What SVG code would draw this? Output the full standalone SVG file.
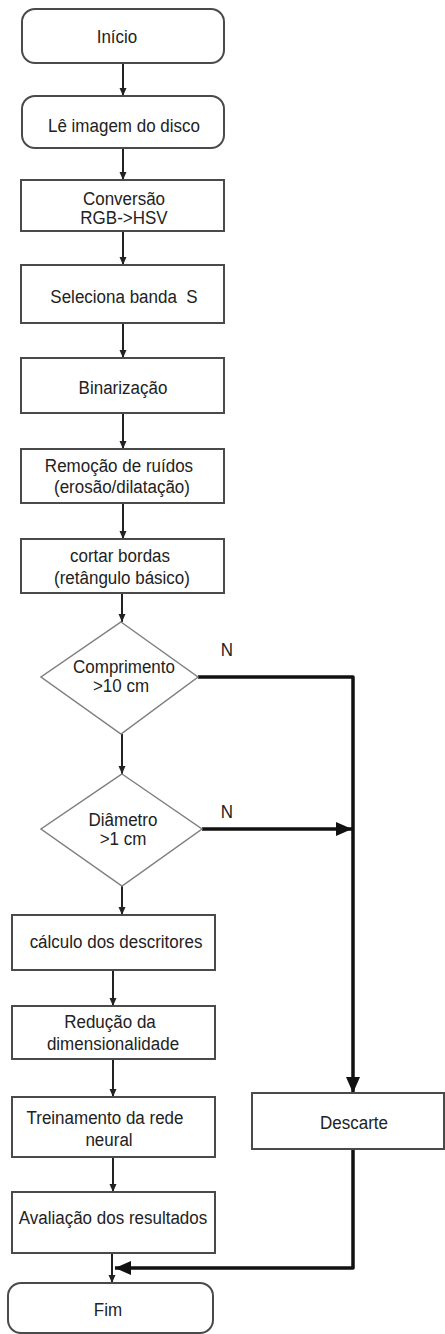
<svg xmlns="http://www.w3.org/2000/svg" width="445" height="1334" viewBox="0 0 445 1334">
  <style>
    .box { fill: #ffffff; stroke: #4a4a4a; stroke-width: 2; }
    .dec { fill: #ffffff; stroke: #808080; stroke-width: 1.5; }
    .lbl { font-family: "Liberation Sans", Arial, sans-serif; font-size: 17px; fill: #222; text-anchor: middle;
           transform-box: fill-box; transform-origin: center; transform: scaleY(1.12); }
    .flow { fill: none; stroke: #222; stroke-width: 2; }
    .no { fill: none; stroke: #111; stroke-width: 3.5; stroke-linejoin: round; }
  </style>
  <defs>
    <marker id="arr" markerWidth="8" markerHeight="8" refX="8" refY="4" orient="auto" markerUnits="userSpaceOnUse">
      <path d="M0,0.5 L8,4 L0,7.5 Z" fill="#222"/>
    </marker>
    <marker id="arrBig" markerWidth="16" markerHeight="14" refX="16" refY="7" orient="auto" markerUnits="userSpaceOnUse">
      <path d="M0,0 L16,7 L0,14 Z" fill="#111"/>
    </marker>
  </defs>
  <rect width="445" height="1334" fill="#ffffff"/>

  <!-- connectors -->
  <g id="connectors">
    <line class="flow" x1="123" y1="63" x2="123" y2="96" marker-end="url(#arr)"/>
    <line class="flow" x1="123" y1="148" x2="123" y2="180" marker-end="url(#arr)"/>
    <line class="flow" x1="123" y1="231" x2="123" y2="265" marker-end="url(#arr)"/>
    <line class="flow" x1="123" y1="323" x2="123" y2="358" marker-end="url(#arr)"/>
    <line class="flow" x1="123" y1="413" x2="123" y2="449" marker-end="url(#arr)"/>
    <line class="flow" x1="123" y1="503" x2="123" y2="539" marker-end="url(#arr)"/>
    <line class="flow" x1="122" y1="593" x2="122" y2="622" marker-end="url(#arr)"/>
    <line class="flow" x1="122" y1="734" x2="122" y2="774" marker-end="url(#arr)"/>
    <line class="flow" x1="122" y1="886" x2="122" y2="915" marker-end="url(#arr)"/>
    <line class="flow" x1="113" y1="970" x2="113" y2="1006" marker-end="url(#arr)"/>
    <line class="flow" x1="113" y1="1059" x2="113" y2="1097" marker-end="url(#arr)"/>
    <line class="flow" x1="113" y1="1157" x2="113" y2="1192" marker-end="url(#arr)"/>
    <line class="flow" x1="112" y1="1253" x2="112" y2="1283" marker-end="url(#arr)"/>
    <!-- "N" branches towards the discard box -->
    <path class="no" d="M198,677 H353 V1093" marker-end="url(#arrBig)"/>
    <line class="no" x1="202" y1="829" x2="352" y2="829" marker-end="url(#arrBig)"/>
    <path class="no" d="M353,1149 V1268 H115" marker-end="url(#arrBig)"/>
  </g>

  <g id="inicio">
    <rect class="box" x="22" y="9" width="202" height="54" rx="13"/>
    <text class="lbl" x="117" y="42">Início</text>
  </g>
  <g id="le-imagem">
    <rect class="box" x="22" y="96" width="202" height="52" rx="13"/>
    <text class="lbl" x="124" y="131">Lê imagem do disco</text>
  </g>
  <g id="conversao">
    <rect class="box" x="21" y="180" width="203" height="51"/>
    <text class="lbl" x="124" y="204">Conversão</text>
    <text class="lbl" x="124" y="223">RGB-&gt;HSV</text>
  </g>
  <g id="seleciona">
    <rect class="box" x="21" y="265" width="203" height="58"/>
    <text class="lbl" x="124" y="302" xml:space="preserve">Seleciona banda  S</text>
  </g>
  <g id="binarizacao">
    <rect class="box" x="21" y="358" width="203" height="55"/>
    <text class="lbl" x="123" y="393">Binarização</text>
  </g>
  <g id="remocao">
    <rect class="box" x="21" y="449" width="203" height="54"/>
    <text class="lbl" x="119" y="471">Remoção de ruídos</text>
    <text class="lbl" x="122" y="492">(erosão/dilatação)</text>
  </g>
  <g id="cortar">
    <rect class="box" x="21" y="539" width="203" height="54"/>
    <text class="lbl" x="120" y="561">cortar bordas</text>
    <text class="lbl" x="122" y="583">(retângulo básico)</text>
  </g>
  <g id="comprimento">
    <polygon class="dec" points="121,622 198,677 121,734 41,677"/>
    <text class="lbl" x="124" y="672">Comprimento</text>
    <text class="lbl" x="121" y="691">&gt;10 cm</text>
    <text class="lbl" x="227" y="655">N</text>
  </g>
  <g id="diametro">
    <polygon class="dec" points="122,774 202,829 122,886 41,829"/>
    <text class="lbl" x="123" y="825">Diâmetro</text>
    <text class="lbl" x="123" y="844">&gt;1 cm</text>
    <text class="lbl" x="227" y="817">N</text>
  </g>
  <g id="calculo">
    <rect class="box" x="12" y="915" width="203" height="55"/>
    <text class="lbl" x="116" y="947">cálculo dos descritores</text>
  </g>
  <g id="reducao">
    <rect class="box" x="12" y="1006" width="203" height="53"/>
    <text class="lbl" x="110" y="1027">Redução da</text>
    <text class="lbl" x="113" y="1049">dimensionalidade</text>
  </g>
  <g id="treinamento">
    <rect class="box" x="12" y="1097" width="203" height="60"/>
    <text class="lbl" x="105" y="1123">Treinamento da rede</text>
    <text class="lbl" x="109" y="1145">neural</text>
  </g>
  <g id="avaliacao">
    <rect class="box" x="12" y="1192" width="203" height="61"/>
    <text class="lbl" x="113" y="1223">Avaliação dos resultados</text>
  </g>
  <g id="descarte">
    <rect class="box" x="252" y="1093" width="192" height="56"/>
    <text class="lbl" x="354" y="1128">Descarte</text>
  </g>
  <g id="fim">
    <rect class="box" x="8" y="1283" width="205" height="50" rx="13"/>
    <text class="lbl" x="108" y="1315">Fim</text>
  </g>
</svg>
